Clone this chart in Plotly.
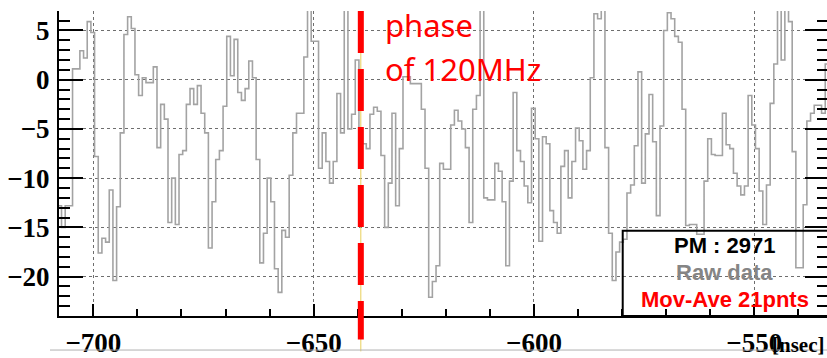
import plotly.graph_objects as go

# ---- data ----
first_bin_ns = -708.06      # left edge of first bin [nsec]
bin_width_ns = 0.8333       # sampling interval [nsec]
amplitude = [
    -12.8, -15.0, -12.8, -12.8, 1.1, 1.1, 2.95, 2.2, 5.9, 4.8,          # k=-10..-1
    -7.8, -17.6, -16.1, -16.5, -11.2, -20.4, -12.9, -5.4, 4.6, 6.4,     # 0..9
    5.2, 0.5, -1.6, 0.2, -0.3, -0.3, 1.3, -6.9, -2.5, -4.0,             # 10..19
    -14.5, -10.0, -14.7, -7.6, -7.2, -2.5, -0.9, -2.5, -0.6, -3.4,      # 20..29
    -5.4, -17.1, -12.4, -8.1, -7.2, -2.7, 4.4, 0.4, 4.1, -1.3,          # 30..39
    -2.1, -0.9, 1.9, 0.2, -8.1, -18.6, -15.6, -10.0, -12.4, -19.2,      # 40..49
    -21.6, -15.3, -16.0, -9.7, -5.4, -3.4, -3.4, 2.3, 9.0, 3.9,         # 50..59
    3.9, -9.0, -5.4, -8.3, -10.5, -8.3, -1.4, -5.4, 9.0, -5.0,          # 60..69
    -3.5, 2.0, -5.0, -6.5, -7.0, -3.5, -2.8, -3.2, -7.7, -15.0,         # 70..79
    -10.5, -3.4, -12.8, -7.0, 0.3, 0.3, -0.4, -0.4, -0.4, -3.0,         # 80..89
    -9.0, -22.1, -20.5, -18.9, -8.5, -9.1, -9.1, -4.6, -3.1, -4.2,      # 90..99
    -5.0, -6.9, -14.5, -3.0, -1.6, 9.0, -12.0, -12.2, -12.2, -8.5,      # 100..109
    -9.3, -12.4, -18.9, -10.3, -1.3, -7.2, -8.3, -10.8, -12.5, -2.9,    # 110..119
    -6.0, -16.4, -5.8, -6.5, -13.3, -14.5, -15.6, -8.8, -7.2, -12.0,    # 120..129
    -8.3, -4.9, -6.2, -9.1, -7.2, 0.2, 6.7, 6.2, 9.0, -6.9,             # 130..139
    -15.6, -20.4, -17.5, -16.5, -16.2, -11.5, -10.7, -6.7, 0.8, -10.5,  # 140..149
    -5.5, -1.5, -6.3, -13.8, -4.7, 5.0, 6.8, 6.2, 4.4, 3.8,             # 150..159
    -3.0, -14.8, -14.7, -14.7, -15.7, -15.7, -10.3, -6.0, -7.6, -7.7,   # 160..169
    -7.7, -3.4, -6.6, -7.0, -9.5, -10.8, -11.7, -10.8, -1.6, -4.6,      # 170..179
    -7.0, -11.3, -14.7, -10.7, -2.4, 1.6, 9.0, 2.0, 9.0, 5.9,           # 180..189
    -7.3, -19.1, -19.1, -12.7, -4.2, -3.4, -2.6, -2.6, -3.4, 1.6,       # 190..199
]
x_range = [-707.8, -533.5]
y_range = [-24.0, 6.98]
x_tick0, x_major_step, x_minor_step = -700, 50, 10
y_tick0, y_major_step, y_minor_step = 0, 5, 1
phase_ns = -639.3
phase_text = ["phase", "of 120MHz"]
legend_lines = ["PM : 2971", "Raw data", "Mov-Ave 21pnts"]
legend_colors = ["#000000", "#858585", "#ff0000"]
x_title = "[nsec]"

# ---- build figure ----
edges = [first_bin_ns + i * bin_width_ns for i in range(len(amplitude) + 1)]
ys = amplitude + [amplitude[-1]]

fig = go.Figure()
fig.add_trace(go.Scatter(
    x=edges, y=ys, mode="lines", line_shape="hv",
    line=dict(color="#a3a3a3", width=1.6), showlegend=False, hoverinfo="skip"))
# empty trace so the right-hand tick axis is drawn
fig.add_trace(go.Scatter(x=[None], y=[None], yaxis="y2", showlegend=False, hoverinfo="skip"))

tickfont = dict(family="Liberation Serif", size=27, color="black", weight="bold")

fig.update_layout(
    width=827, height=358,
    margin=dict(l=59, r=0, t=11, b=36),
    paper_bgcolor="white", plot_bgcolor="white",
    showlegend=False,
    xaxis=dict(
        range=x_range, tickmode="linear", tick0=x_tick0, dtick=x_major_step,
        ticks="inside", ticklen=12, tickwidth=1.5, tickcolor="black",
        showline=True, linecolor="black", linewidth=2,
        showgrid=True, gridcolor="#6e6e6e", griddash="dot", gridwidth=1,
        zeroline=False, tickfont=tickfont, ticklabelstandoff=2,
        minor=dict(tick0=x_tick0, dtick=x_minor_step, ticks="inside", ticklen=7,
                   tickwidth=1.5, tickcolor="black", showgrid=False),
    ),
    yaxis=dict(
        range=y_range, tickmode="linear", tick0=y_tick0, dtick=y_major_step,
        ticks="inside", ticklen=24, tickwidth=1.5, tickcolor="black",
        showline=True, linecolor="black", linewidth=2,
        showgrid=True, gridcolor="#6e6e6e", griddash="dot", gridwidth=1,
        zeroline=False, tickfont=tickfont, ticklabelstandoff=2,
        minor=dict(tick0=y_tick0, dtick=y_minor_step, ticks="inside", ticklen=11,
                   tickwidth=1.5, tickcolor="black", showgrid=False),
    ),
    yaxis2=dict(
        range=y_range, overlaying="y", side="right", tickmode="linear",
        tick0=y_tick0, dtick=y_major_step, ticks="inside", ticklen=22,
        tickwidth=1.5, tickcolor="black", showline=False, showgrid=False,
        zeroline=False, showticklabels=False,
        minor=dict(tick0=y_tick0, dtick=y_minor_step, ticks="inside", ticklen=10,
                   tickwidth=1.5, tickcolor="black", showgrid=False),
    ),
)

# legend box (transparent, black frame)
fig.add_shape(type="rect", xref="paper", yref="paper",
              x0=0.734, x1=1.02, y0=0.0, y1=0.2797,
              line=dict(color="black", width=2), fillcolor="rgba(0,0,0,0)")

# thin yellow guide and red dashed phase marker
fig.add_shape(type="line", xref="x", yref="paper", x0=phase_ns, x1=phase_ns,
              y0=1.0, y1=-0.116, line=dict(color="#e8cf5a", width=1))
fig.add_shape(type="line", xref="x", yref="paper", x0=phase_ns, x1=phase_ns,
              y0=1.0, y1=-0.0772, line=dict(color="#ff0000", width=6, dash="42px,16px"))

# faint line at the bottom of the picture
fig.add_shape(type="line", xref="paper", yref="paper", x0=-0.0117, x1=1.0,
              y0=-0.1116, y1=-0.1116, line=dict(color="#b0b0b0", width=1))

# phase text
for txt, yp in zip(phase_text, [0.955, 0.81]):
    fig.add_annotation(text=txt, xref="paper", yref="paper", x=0.4225, y=yp,
                       xanchor="left", yanchor="middle", showarrow=False,
                       font=dict(family="Noto Sans", size=31, color="#ff0000"))

# legend texts
for txt, col, yp in zip(legend_lines, legend_colors, [0.2315, 0.1415, 0.0547]):
    fig.add_annotation(text=txt, xref="paper", yref="paper", x=0.867, y=yp,
                       xanchor="center", yanchor="middle", showarrow=False,
                       font=dict(family="Liberation Sans", size=22, color=col, weight="bold"))

# axis title (sits just under the last tick label, as in the original)
fig.add_annotation(text=x_title, xref="paper", yref="paper", x=0.999, y=-0.094,
                   xanchor="right", yanchor="middle", showarrow=False,
                   font=dict(family="Liberation Serif", size=21, color="black", weight="bold"))

fig.write_html("out.html")
